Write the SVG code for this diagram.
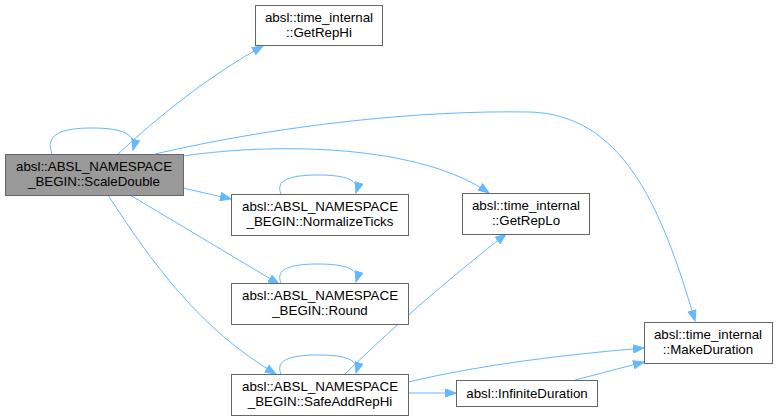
<svg xmlns="http://www.w3.org/2000/svg" width="778" height="419" viewBox="0 0 778 419">
<defs>
<marker id="ah" markerWidth="12" markerHeight="9" refX="11" refY="4.5" orient="auto" markerUnits="userSpaceOnUse">
<path d="M0.5,0.5 L11,4.5 L0.5,8.5 Z" fill="#63b8ff" stroke="#63b8ff"/>
</marker>
</defs>
<style>
.n rect{fill:#fff;stroke:#666;stroke-width:1}
.n.cur rect{fill:#999}
.n text{font-family:"Liberation Sans",Arial,sans-serif;font-size:13.33px;text-anchor:middle;fill:#000}
.e path{fill:none;stroke:#63b8ff;stroke-width:1;marker-end:url(#ah)}
</style>
<rect width="778" height="419" fill="#fff"/>
<g id="edges" class="e">
<path d="M52,154 C45,135 60,128 92,128 C124,128 137,135 133,150"/>
<path d="M118,154 C160,115 210,75 263,46"/>
<path d="M155,154 C280,125 420,110 530,112 C620,115 660,200 695,321"/>
<path d="M183,156 C280,142 420,145 489,193"/>
<path d="M183,188 L231,199"/>
<path d="M130,195 L279,284"/>
<path d="M108,195 C150,260 200,330 276,374"/>
<path d="M281,194 C275,180 290,175 318,175 C346,175 360,180 356,193"/>
<path d="M281,283 C275,269 290,264 318,264 C346,264 360,269 356,282"/>
<path d="M281,374 C275,360 290,355 318,355 C346,355 360,360 356,373"/>
<path d="M345,374 C400,320 460,270 506,234"/>
<path d="M408,382 C480,365 560,355 644,348"/>
<path d="M408,393 L456,393"/>
<path d="M575,380 L644,362"/>
</g>
<g id="ScaleDouble" class="n cur"><rect x="5.5" y="154.5" width="178" height="41"/><text x="94" y="171">absl::ABSL_NAMESPACE</text><text x="94" y="186">_BEGIN::ScaleDouble</text></g>
<g id="GetRepHi" class="n"><rect x="255.5" y="5.5" width="127" height="40"/><text x="319" y="22">absl::time_internal</text><text x="319" y="37">::GetRepHi</text></g>
<g id="NormalizeTicks" class="n"><rect x="231.5" y="194.5" width="177" height="41"/><text x="320" y="211">absl::ABSL_NAMESPACE</text><text x="320" y="226">_BEGIN::NormalizeTicks</text></g>
<g id="Round" class="n"><rect x="231.5" y="283.5" width="177" height="41"/><text x="320" y="300">absl::ABSL_NAMESPACE</text><text x="320" y="315">_BEGIN::Round</text></g>
<g id="SafeAddRepHi" class="n"><rect x="231.5" y="374.5" width="177" height="41"/><text x="320" y="391">absl::ABSL_NAMESPACE</text><text x="320" y="406">_BEGIN::SafeAddRepHi</text></g>
<g id="GetRepLo" class="n"><rect x="462.5" y="193.5" width="127" height="41"/><text x="526" y="210">absl::time_internal</text><text x="526" y="225">::GetRepLo</text></g>
<g id="MakeDuration" class="n"><rect x="644.5" y="322.5" width="128" height="41"/><text x="708" y="339">absl::time_internal</text><text x="708" y="354">::MakeDuration</text></g>
<g id="InfiniteDuration" class="n"><rect x="456.5" y="380.5" width="141" height="26"/><text x="527" y="398">absl::InfiniteDuration</text></g>
</svg>
